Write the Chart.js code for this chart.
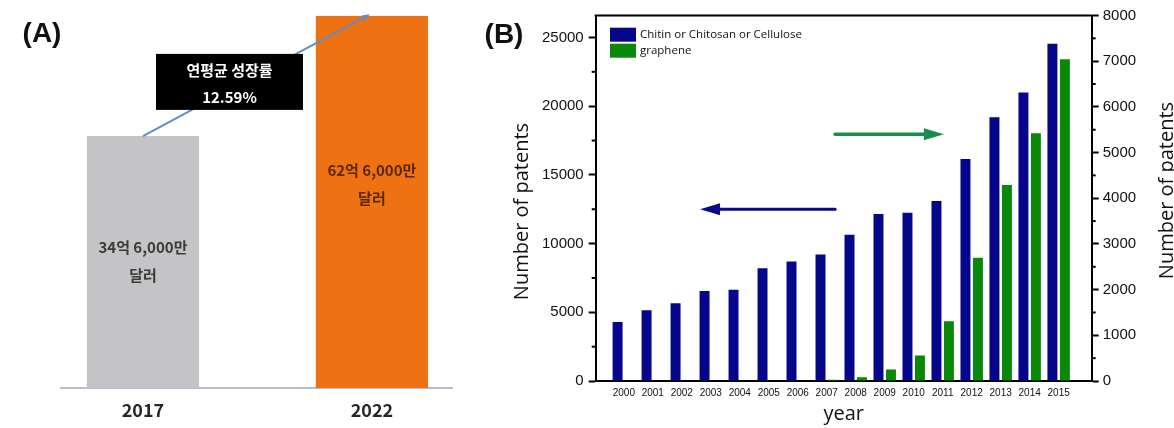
<!DOCTYPE html>
<html>
<head>
<meta charset="utf-8">
<script src="https://cdn.jsdelivr.net/npm/chart.js@4.4.1/dist/chart.umd.min.js"></script>
<style>
    html, body { margin: 0; padding: 0; background: #fff; }
    body { width: 1174px; height: 428px; position: relative; overflow: hidden; }
    canvas { position: absolute; top: 0; }
    #chartA { left: 0; z-index: 2; }
    #chartB { left: 480px; z-index: 1; }
</style>
</head>
<body>
<canvas id="chartA" width="490" height="428"></canvas>
<canvas id="chartB" width="694" height="428"></canvas>
<script>
// --- (A) 시장 규모 ---
const marketYears = [2017, 2022];
const marketValues = [34.6, 62.6]; // 억 달러
const marketLabels = [['34억 6,000만', '달러'], ['62억 6,000만', '달러']];
const growthLabel = ['연평균 성장률', '12.59%'];

// --- (B) patents ---
const patentYears = [2000, 2001, 2002, 2003, 2004, 2005, 2006, 2007, 2008, 2009, 2010, 2011, 2012, 2013, 2014, 2015];
const celluloseCounts = [4300, 5150, 5650, 6550, 6650, 8200, 8700, 9200, 10650, 12150, 12250, 13100, 16150, 19200, 21000, 24550];
const grapheneCounts = [0, 0, 0, 0, 0, 0, 0, 30, 80, 250, 560, 1310, 2700, 4290, 5420, 7040];
const leftTickValues = [0, 5000, 10000, 15000, 20000, 25000];
const rightTickValues = [0, 1000, 2000, 3000, 4000, 5000, 6000, 7000, 8000];
const seriesNames = ['Chitin or Chitosan or Cellulose', 'graphene'];

const KR = '"Noto Sans CJK KR", "Noto Sans", sans-serif';
const ARIAL = '"Liberation Sans", Arial, sans-serif';
const BLUE = '#06068a';
const GREEN = '#0a880a';

// 패널 A 주석 (성장률 박스, 막대 안 글씨)
const annotA = {
    id: 'annotA',
    afterDatasetsDraw(chart) {
        const { ctx, scales: { x, y } } = chart;
        ctx.save();

        // 성장 화살표
        const x0 = x.getPixelForValue(marketYears[0]), y0 = y.getPixelForValue(marketValues[0]);
        const x1 = x.getPixelForValue(marketYears[1] - 0.1), y1 = y.getPixelForValue(marketValues[1]);
        ctx.strokeStyle = '#5f8ec6';
        ctx.lineWidth = 2;
        ctx.beginPath(); ctx.moveTo(x0, y0); ctx.lineTo(x1, y1); ctx.stroke();
        const ang = Math.atan2(y1 - y0, x1 - x0);
        ctx.fillStyle = '#5f8ec6';
        ctx.beginPath();
        ctx.moveTo(x1 + 3 * Math.cos(ang), y1 + 3 * Math.sin(ang));
        ctx.lineTo(x1 - 5 * Math.cos(ang) + 3 * Math.sin(ang), y1 - 5 * Math.sin(ang) - 3 * Math.cos(ang));
        ctx.lineTo(x1 - 5 * Math.cos(ang) - 3 * Math.sin(ang), y1 - 5 * Math.sin(ang) + 3 * Math.cos(ang));
        ctx.closePath(); ctx.fill();

        // 검은 박스
        const bx = x.getPixelForValue(2018.89), by = y.getPixelForValue(47.2);
        ctx.fillStyle = '#000';
        ctx.fillRect(bx - 73.5, by - 28, 147, 56);
        ctx.fillStyle = '#fff';
        ctx.font = 'bold 15px ' + KR;
        ctx.textAlign = 'center';
        ctx.textBaseline = 'middle';
        ctx.fillText(growthLabel[0], bx, by - 12);
        ctx.fillText(growthLabel[1], bx, by + 15);

        // 막대 안 글씨
        const labelAt = [8.8, 26.7];
        const labelColor = ['#3a3a3a', '#5a2800'];
        marketYears.forEach((yr, i) => {
            const cx = x.getPixelForValue(yr);
            const cy = y.getPixelForValue(labelAt[i]);
            ctx.fillStyle = labelColor[i];
            ctx.fillText(marketLabels[i][0], cx, cy);
            ctx.fillText(marketLabels[i][1], cx, cy + 28);
        });

        // (A)
        ctx.fillStyle = '#111';
        ctx.font = 'bold 28px ' + ARIAL;
        ctx.fillText('(A)', 42, 34);
        ctx.restore();
    }
};

new Chart(document.getElementById('chartA'), {
    type: 'bar',
    data: {
        datasets: [{
            data: marketYears.map((yr, i) => ({ x: yr, y: marketValues[i] })),
            backgroundColor: ['#c4c4c6', '#ee7212'],
            base: -24,
            barPercentage: 0.49,
            categoryPercentage: 1
        }]
    },
    options: {
        responsive: false,
        animation: false,
        layout: { padding: { left: 61, right: 38, top: 15.7, bottom: 0 } },
        plugins: { legend: { display: false }, tooltip: { enabled: false } },
        scales: {
            x: {
                type: 'linear',
                offset: false,
                min: 2015.21,
                max: 2023.75,
                afterBuildTicks: s => { s.ticks = marketYears.map(v => ({ value: v })); },
                afterFit: s => { s.height = 40; },
                grid: { drawOnChartArea: false, drawTicks: false, offset: false },
                border: { color: '#b5bdd5', width: 2 },
                ticks: {
                    callback: v => String(v),
                    color: '#262626',
                    font: { family: KR, size: 18, weight: 'bold' },
                    padding: 11,
                    maxRotation: 0
                }
            },
            y: { display: false, min: -24, max: 62.6 }
        }
    },
    plugins: [annotA]
});

// 패널 B 주석 (테두리, 보조 눈금, 화살표, 범례, 축 제목)
const annotB = {
    id: 'annotB',
    afterDraw(chart) {
        const { ctx, chartArea: a, scales: { x, y, y1 } } = chart;
        ctx.save();

        // top frame line
        ctx.strokeStyle = '#000';
        ctx.lineWidth = 2;
        ctx.beginPath(); ctx.moveTo(a.left - 1, a.top); ctx.lineTo(a.right + 1, a.top); ctx.stroke();

        // minor ticks
        ctx.lineWidth = 2;
        for (let v = 2500; v < 26600; v += 5000) {
            const py = y.getPixelForValue(v);
            ctx.beginPath(); ctx.moveTo(a.left, py); ctx.lineTo(a.left - 4, py); ctx.stroke();
        }
        for (let v = 500; v < 8000; v += 1000) {
            const py = y1.getPixelForValue(v);
            ctx.beginPath(); ctx.moveTo(a.right, py); ctx.lineTo(a.right + 4, py); ctx.stroke();
        }

        // arrows
        const arrow = (xFrom, xTo, py, color, w) => {
            ctx.strokeStyle = color; ctx.fillStyle = color;
            ctx.lineWidth = w; ctx.lineCap = 'round';
            const dir = Math.sign(xTo - xFrom);
            ctx.beginPath(); ctx.moveTo(xFrom, py); ctx.lineTo(xTo - dir * 16, py); ctx.stroke();
            ctx.beginPath();
            ctx.moveTo(xTo, py);
            ctx.lineTo(xTo - dir * 20, py - 6);
            ctx.lineTo(xTo - dir * 20, py + 6);
            ctx.closePath(); ctx.fill();
        };
        arrow(x.getPixelForValue(2007.29), x.getPixelForValue(2002.63), y.getPixelForValue(12500), '#0a0a8a', 3);
        arrow(x.getPixelForValue(2007.29), x.getPixelForValue(2011.04), y1.getPixelForValue(5400), '#1b8c4c', 3.5);

        // legend
        const colors = [BLUE, GREEN];
        ctx.font = '11.5px "Open Sans", sans-serif';
        ctx.textAlign = 'left';
        ctx.textBaseline = 'middle';
        seriesNames.forEach((name, i) => {
            const ty = a.top + 19.2 + i * 16;
            ctx.fillStyle = colors[i];
            ctx.fillRect(a.left + 14.3, ty - 7, 26, 14);
            ctx.fillStyle = '#111';
            ctx.fillText(name, a.left + 44.3, ty);
        });

        // axis titles
        ctx.fillStyle = '#111';
        ctx.font = '20px "Open Sans", sans-serif';
        ctx.textAlign = 'center';
        ctx.textBaseline = 'middle';
        ctx.fillText('year', (a.left + a.right) / 2, 414);
        [[42.5, 211.5], [687.5, 190.5]].forEach(([tx, ty]) => {
            ctx.save();
            ctx.translate(tx, ty);
            ctx.rotate(-Math.PI / 2);
            ctx.fillText('Number of patents', 0, 0);
            ctx.restore();
        });

        // (B)
        ctx.font = 'bold 28px ' + ARIAL;
        ctx.fillText('(B)', 24, 35);
        ctx.restore();
    }
};

const axisTickFont = { family: ARIAL, size: 15 };

new Chart(document.getElementById('chartB'), {
    type: 'bar',
    data: {
        datasets: [
            {
                label: seriesNames[0],
                data: patentYears.map((yr, i) => ({ x: yr, y: celluloseCounts[i] })),
                backgroundColor: BLUE,
                yAxisID: 'y',
                barPercentage: 0.8,
                categoryPercentage: 0.86
            },
            {
                label: seriesNames[1],
                data: patentYears.map((yr, i) => ({ x: yr, y: grapheneCounts[i] })),
                backgroundColor: GREEN,
                yAxisID: 'y1',
                barPercentage: 0.8,
                categoryPercentage: 0.86
            }
        ]
    },
    options: {
        responsive: false,
        animation: false,
        layout: { padding: { top: 15.5, left: 0, right: 0, bottom: 0 } },
        plugins: { legend: { display: false }, tooltip: { enabled: false } },
        scales: {
            x: {
                type: 'linear',
                offset: false,
                min: 1999.03,
                max: 2016.14,
                afterBuildTicks: s => { s.ticks = patentYears.map(v => ({ value: v })); },
                afterFit: s => { s.height = 47; },
                grid: { drawOnChartArea: false, drawTicks: false, offset: false },
                border: { color: '#000', width: 2 },
                ticks: {
                    callback: v => String(v),
                    color: '#111',
                    font: { family: ARIAL, size: 10 },
                    padding: 6,
                    maxRotation: 0,
                    autoSkip: false
                }
            },
            y: {
                position: 'left',
                min: 0,
                max: 26600,
                afterBuildTicks: s => { s.ticks = leftTickValues.map(v => ({ value: v })); },
                afterFit: s => { s.width = 115.7; },
                grid: { drawOnChartArea: false, tickLength: 7, tickColor: '#000', tickWidth: 2 },
                border: { color: '#000', width: 2 },
                ticks: { callback: v => String(v), color: '#111', font: axisTickFont, padding: 5 }
            },
            y1: {
                position: 'right',
                min: 0,
                max: 8000,
                afterBuildTicks: s => { s.ticks = rightTickValues.map(v => ({ value: v })); },
                afterFit: s => { s.width = 82.3; },
                grid: { drawOnChartArea: false, tickLength: 7, tickColor: '#000', tickWidth: 2 },
                border: { color: '#000', width: 2 },
                ticks: { callback: v => String(v), color: '#111', font: axisTickFont, padding: 4 }
            }
        }
    },
    plugins: [annotB]
});
</script>
</body>
</html>
